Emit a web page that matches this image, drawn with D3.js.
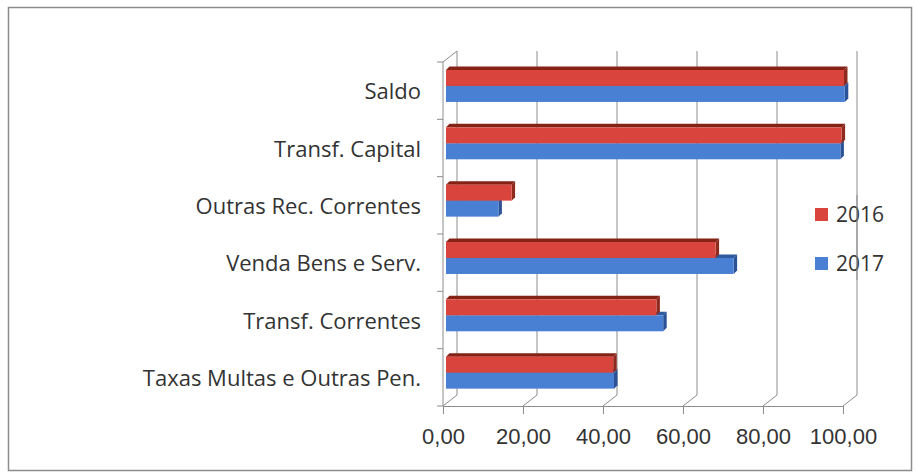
<!DOCTYPE html>
<meta charset="utf-8">
<style>
body { margin: 0; background: #fff; }
svg { font-family: "Open Sans", sans-serif; }
.grid line { stroke: #8c8c8c; stroke-width: 1; }
.axis path, .axis line { stroke: #8c8c8c; fill: none; }
.axis text, .cat { fill: #333; font-size: 22px; }
.legend text { fill: #333; font-size: 21px; }
</style>
<div id="chart"></div>
<script src="https://cdnjs.cloudflare.com/ajax/libs/d3/7.8.5/d3.min.js"></script>
<script>
var categories = ["Saldo", "Transf. Capital", "Outras Rec. Correntes", "Venda Bens e Serv.", "Transf. Correntes", "Taxas Multas e Outras Pen."];
var v2016 = [99.5, 98.9, 16.4, 67.4, 52.6, 41.8];
var v2017 = [99.7, 98.6, 13.1, 71.9, 54.3, 42.0];
var series = ["2016", "2017"];
var tickVals = [0, 20, 40, 60, 80, 100];

var W = 916, H = 474;
var svg = d3.select("#chart").append("svg").attr("width", W).attr("height", H);

// outer frame
svg.append("rect").attr("x", 8.5).attr("y", 7.5).attr("width", 903).attr("height", 463)
  .attr("fill", "#fff").attr("stroke", "#8c8c8c").attr("stroke-width", 1.5);

// front plane of the 3d box, and the depth offset of the back wall
var boxL = 443, boxR = 843, boxT = 62, boxB = 406;
var dx = 14, dy = -11;

var x = d3.scaleLinear().domain([0, 100]).range([boxL, boxR]);
var y = d3.scaleBand().domain(categories).range([boxT, boxB]);

var grid = svg.append("g").attr("class", "grid");
// back wall gridlines
grid.selectAll(".back").data(tickVals).enter().append("line")
  .attr("x1", d => x(d) + dx).attr("x2", d => x(d) + dx)
  .attr("y1", boxT + dy).attr("y2", boxB + dy);
// floor diagonals
grid.selectAll(".floor").data(tickVals).enter().append("line")
  .attr("x1", d => x(d)).attr("x2", d => x(d) + dx)
  .attr("y1", boxB).attr("y2", boxB + dy);
// left wall
grid.append("line").attr("x1", boxL).attr("x2", boxL).attr("y1", boxT).attr("y2", boxB);
grid.append("line").attr("x1", boxL).attr("x2", boxL + dx).attr("y1", boxT).attr("y2", boxT + dy);
var bounds = categories.map(c => y(c)).concat([boxB]);
grid.selectAll(".ctick").data(bounds).enter().append("line")
  .attr("x1", boxL - 6).attr("x2", boxL).attr("y1", d => d).attr("y2", d => d);

// value axis along the front of the floor
var fmt = d => d3.format(".2f")(d).replace(".", ",");
svg.append("g").attr("class", "axis").attr("transform", "translate(0," + boxB + ")")
  .call(d3.axisBottom(x).tickValues(tickVals).tickFormat(fmt).tickSize(8).tickSizeOuter(0).tickPadding(30))
  .call(g => g.selectAll("text").attr("dy", "0"));

// category labels
svg.selectAll(".cat").data(categories).enter().append("text")
  .attr("class", "cat")
  .attr("x", 421).attr("y", d => y(d) + y.bandwidth() / 2 + 8.5)
  .attr("text-anchor", "end").text(d => d);

// 3d bars
var colors = {
  "2016": { front: "#d9443c", top: "#842216", side: "#8f2a1e" },
  "2017": { front: "#4a80d4", top: "#2f5a9e", side: "#2b5296" }
};
var bx = 3, bh = 16, ddx = 3.5, ddy = -3.5;
var bars = [];
categories.forEach(function (c, i) {
  var cy = y(c) + y.bandwidth() / 2;
  bars.push({ s: "2016", v: v2016[i], y0: cy - 20.7 });
  bars.push({ s: "2017", v: v2017[i], y0: cy - 4.7 });
});
// draw lower bars first so upper ones overlap correctly
bars.sort((a, b) => b.y0 - a.y0);
var bg = svg.append("g");
bars.forEach(function (b) {
  var x0 = x(0) + bx, x1 = x(b.v) + bx, y0 = b.y0, y1 = b.y0 + bh;
  var col = colors[b.s];
  bg.append("path").attr("fill", col.top)
    .attr("d", `M${x0},${y0}L${x0 + ddx},${y0 + ddy}L${x1 + ddx},${y0 + ddy}L${x1},${y0}Z`);
  bg.append("path").attr("fill", col.side)
    .attr("d", `M${x1},${y0}L${x1 + ddx},${y0 + ddy}L${x1 + ddx},${y1 + ddy}L${x1},${y1}Z`);
  bg.append("rect").attr("fill", col.front)
    .attr("x", x0).attr("y", y0).attr("width", x1 - x0).attr("height", bh);
});

// legend
var lg = svg.append("g").attr("class", "legend");
series.forEach(function (s, i) {
  var ly = 208 + i * 49;
  lg.append("rect").attr("x", 815).attr("y", ly).attr("width", 13).attr("height", 13)
    .attr("fill", colors[s].front);
  lg.append("text").attr("x", 836).attr("y", ly + 14).text(s);
});
// back gridline at 100 passes over the legend
svg.append("line").attr("class", "grid")
  .attr("x1", x(100) + dx).attr("x2", x(100) + dx).attr("y1", 195).attr("y2", 280)
  .attr("stroke", "#8c8c8c");
</script>
